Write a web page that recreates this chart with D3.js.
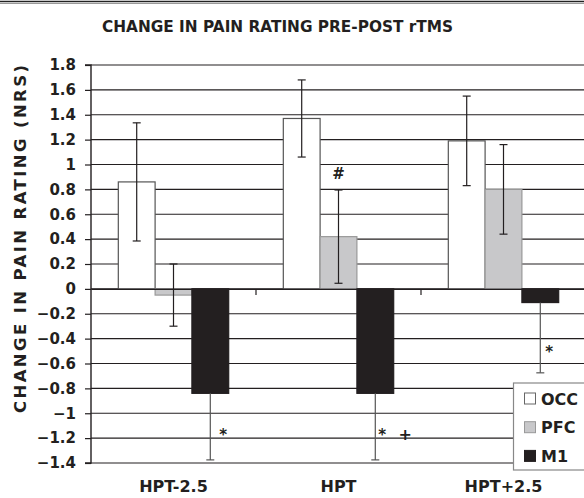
<!DOCTYPE html>
<html><head><meta charset="utf-8">
<script src="https://cdn.jsdelivr.net/npm/d3@7"></script>
<style>body{margin:0;background:#fff}svg{display:block}text{font-family:"DejaVu Sans",Verdana,sans-serif;font-weight:bold;fill:#231f20}</style>
</head><body>
<svg id="c" width="584" height="498"></svg>
<script>
const categories = ["HPT-2.5", "HPT", "HPT+2.5"];
const series = ["OCC", "PFC", "M1"];
const occ = [0.86, 1.37, 1.19];
const occErr = [0.475, 0.31, 0.36];
const pfc = [-0.05, 0.42, 0.80];
const pfcErr = [0.25, 0.375, 0.36];
const m1 = [-0.84, -0.84, -0.11];
const m1Err = [0.535, 0.535, 0.565];
const yTicks = [1.8, 1.6, 1.4, 1.2, 1, 0.8, 0.6, 0.4, 0.2, 0, -0.2, -0.4, -0.6, -0.8, -1, -1.2, -1.4];
const annText = ["#", "*", "*", "+", "*"];
const annCat = ["HPT", "HPT-2.5", "HPT", "HPT", "HPT+2.5"];
const annSeries = ["PFC", "M1", "M1", "M1", "M1"];
const annValue = [0.935, -1.165, -1.165, -1.165, -0.5];
const annDx = [0, 13, 7, 30, 9];

const fills = {OCC: "#ffffff", PFC: "#c8c8ca", M1: "#231f20"};
const strokes = {OCC: "#555", PFC: "#999", M1: "#231f20"};
const vals = {OCC: occ, PFC: pfc, M1: m1};
const errs = {OCC: occErr, PFC: pfcErr, M1: m1Err};

const svg = d3.select("#c");
const L = 91, R = 586, T = 65, B = 463;
const y = d3.scaleLinear().domain([-1.4, 1.8]).range([B, T]);
const x0 = d3.scaleBand().domain(categories).range([L, R]);
const bw = x0.bandwidth();
const x1 = d3.scaleBand().domain(series).range([bw * 0.1655, bw * 0.8345]);

// top border
svg.append("line").attr("x1", 0).attr("x2", 584).attr("y1", 1.5).attr("y2", 1.5).attr("stroke", "#222").attr("stroke-width", 1.5);
svg.append("line").attr("x1", 0).attr("x2", 584).attr("y1", 3.5).attr("y2", 3.5).attr("stroke", "#999").attr("stroke-width", 1);

// title
svg.append("text").attr("x", 277.5).attr("y", 32).attr("text-anchor", "middle")
  .attr("font-size", 16.5).attr("textLength", 351).attr("lengthAdjust", "spacingAndGlyphs")
  .text("CHANGE IN PAIN RATING PRE-POST rTMS");

// gridlines
svg.append("g").selectAll("line").data(yTicks).join("line")
  .attr("x1", L).attr("x2", R).attr("y1", d => y(d)).attr("y2", d => y(d))
  .attr("stroke", "#231f20").attr("stroke-width", 1.2);

// y axis
const yAxis = d3.axisLeft(y).tickValues(yTicks).tickSize(6).tickPadding(9).tickFormat(d => d3.format("")(d));
const ga = svg.append("g").attr("transform", `translate(${L},0)`).call(yAxis);
ga.select(".domain").attr("stroke", "#231f20").attr("stroke-width", 1.4).attr("d", `M-6,${T}H0V${B}H-6`);
ga.selectAll(".tick line").attr("stroke", "#231f20").attr("stroke-width", 1.2);
ga.selectAll(".tick text").attr("font-size", 15).attr("font-family", "DejaVu Sans").attr("font-weight", "bold").attr("fill", "#231f20");

// y title
svg.append("text").attr("transform", `translate(26,239) rotate(-90)`).attr("text-anchor", "middle")
  .attr("font-size", 16.5).attr("textLength", 348).attr("lengthAdjust", "spacing")
  .text("CHANGE IN PAIN RATING (NRS)");

// bars
const flat = [];
categories.forEach((c, i) => series.forEach(s => flat.push({c, s, v: vals[s][i], e: errs[s][i]})));
svg.append("g").selectAll("rect").data(flat).join("rect")
  .attr("x", d => x0(d.c) + x1(d.s)).attr("width", x1.bandwidth())
  .attr("y", d => y(Math.max(0, d.v))).attr("height", d => Math.abs(y(d.v) - y(0)))
  .attr("fill", d => fills[d.s]).attr("stroke", d => strokes[d.s]).attr("stroke-width", 1.2);

// x axis at zero with category ticks
const xAxis = d3.axisBottom(x0).tickSize(0).tickFormat("");
const gx = svg.append("g").attr("transform", `translate(0,${y(0)})`).call(xAxis);
gx.select(".domain").attr("stroke", "#231f20").attr("stroke-width", 1.2);
svg.append("g").selectAll("line").data(categories.slice(1)).join("line")
  .attr("x1", d => x0(d)).attr("x2", d => x0(d)).attr("y1", y(0)).attr("y2", y(0) + 6)
  .attr("stroke", "#231f20").attr("stroke-width", 1.2);

// error bars (M1 shows only the lower half, outside the bar)
const eg = svg.append("g").attr("stroke-width", 1.2);
flat.forEach(d => {
  const cx = x0(d.c) + x1(d.s) + x1.bandwidth() / 2;
  const col = d.s === "M1" ? "#555" : "#231f20";
  const top = d.s === "M1" ? d.v : d.v + d.e;
  eg.append("line").attr("x1", cx).attr("x2", cx).attr("y1", y(top)).attr("y2", y(d.v - d.e)).attr("stroke", col);
  const caps = d.s === "M1" ? [d.v - d.e] : [d.v + d.e, d.v - d.e];
  caps.forEach(t => eg.append("line").attr("x1", cx - 4).attr("x2", cx + 4).attr("y1", y(t)).attr("y2", y(t)).attr("stroke", col));
});

// annotations
annText.forEach((t, i) => {
  const cx = x0(annCat[i]) + x1(annSeries[i]) + x1.bandwidth() / 2 + annDx[i];
  svg.append("text").attr("x", cx).attr("y", y(annValue[i]) + 6).attr("text-anchor", "middle")
    .attr("font-size", t === "+" ? 16 : 15).attr("font-weight", t === "+" ? "normal" : "bold").text(t);
});

// category labels
svg.append("g").selectAll("text").data(categories).join("text")
  .attr("x", d => x0(d) + bw / 2).attr("y", 492).attr("text-anchor", "middle")
  .attr("font-size", 16).text(d => d);

// legend
const lg = svg.append("g");
lg.append("rect").attr("x", 513.5).attr("y", 383).attr("width", 80).attr("height", 87)
  .attr("fill", "#fff").attr("stroke", "#888").attr("stroke-width", 1.2);
series.forEach((s, i) => {
  const cy = 398.5 + i * 28.7;
  lg.append("rect").attr("x", 524.5).attr("y", cy - 5.5).attr("width", 11).attr("height", 11)
    .attr("fill", fills[s]).attr("stroke", s === "OCC" ? "#666" : (s === "PFC" ? "#999" : "#231f20"));
  lg.append("text").attr("x", 541).attr("y", cy + 6).attr("font-size", 16).text(s);
});
</script>
</body></html>
